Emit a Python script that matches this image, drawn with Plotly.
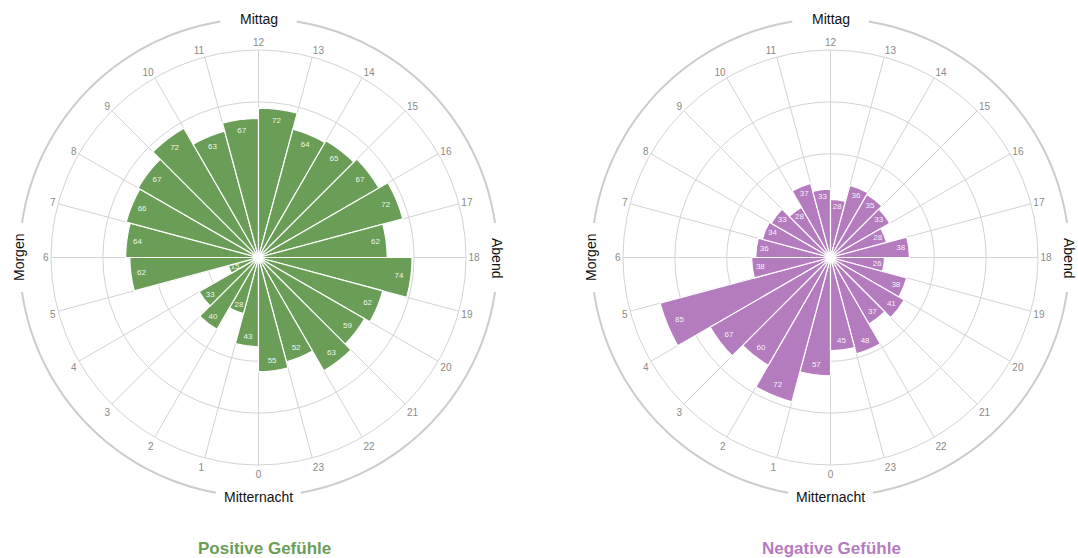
import numpy as np
import plotly.graph_objects as go

hours = list(range(24))
hour_labels = [str(h) for h in hours]
positive = [43, 28, 40, 33, 15, 62, 64, 66, 67, 72, 63, 67,
            72, 64, 65, 67, 72, 62, 74, 62, 59, 63, 52, 55]
negative = [57, 72, 60, 67, 85, 38, 36, 34, 33, 28, 37, 33,
            28, 36, 35, 33, 28, 38, 26, 38, 41, 37, 48, 45]
titles = ["Positive Gefühle", "Negative Gefühle"]
colors = ["#6a9e56", "#b47bbf"]
section_labels = ["Mittag", "Morgen", "Abend", "Mitternacht"]

W, H = 1078, 558
CY = 257.5
R = 207.5
centers = [258.5, 830.5]
title_x = [264, 831]

theta_centers = [h * 15 + 7.5 for h in hours]
tick_vals = [h * 15 for h in hours]

fig = go.Figure()
for i, (vals, col) in enumerate(zip([positive, negative], colors)):
    sub = "polar" if i == 0 else "polar2"
    fig.add_trace(go.Barpolar(
        r=vals, theta=theta_centers, width=[15] * 24,
        marker=dict(color=col, line=dict(color="white", width=1.2)),
        subplot=sub, hoverinfo="r+theta", showlegend=False))
    fig.add_trace(go.Scatterpolar(
        r=[v * 0.95 - 2 for v in vals], theta=theta_centers, mode="text",
        text=[str(v) for v in vals],
        textfont=dict(family="Liberation Sans, Arial", size=8, color="rgba(255,255,255,0.92)"),
        subplot=sub, hoverinfo="skip", showlegend=False))

polar_common = dict(
    bgcolor="white",
    radialaxis=dict(range=[0, 100], tickvals=[25, 50, 75], showticklabels=False,
                    ticks="", gridcolor="#d3d3d3", gridwidth=1, showline=False),
    angularaxis=dict(rotation=270, direction="clockwise", tickmode="array",
                     tickvals=tick_vals, ticktext=hour_labels, ticks="",
                     gridcolor="#d3d3d3", gridwidth=1, linecolor="#d3d3d3", linewidth=1,
                     tickfont=dict(family="Liberation Sans, Arial", size=10, color="#8a8a8a")),
    hole=0,
)

def dom(cx):
    return dict(x=[(cx - R) / W, (cx + R) / W], y=[(H - CY - R) / H, (H - CY + R) / H])

fig.update_layout(
    width=W, height=H, margin=dict(l=0, r=0, t=0, b=0),
    paper_bgcolor="white", plot_bgcolor="white",
    polar=dict(domain=dom(centers[0]), **polar_common),
    polar2=dict(domain=dom(centers[1]), **polar_common),
)

# outer decorative arcs with gaps for section labels
RA = 239
gaps = {90: 9.2, 180: 8.3, 0: 8.3, 270: 10.2}  # screen angle (deg, ccw from +x): half gap
shapes = []
annotations = []
for k, cx in enumerate(centers):
    cyp = H - CY
    segs = [(90 + gaps[90], 180 - gaps[180]), (180 + gaps[180], 270 - gaps[270]),
            (270 + gaps[270], 360 - gaps[0]), (0 + gaps[0], 90 - gaps[90])]
    for a0, a1 in segs:
        a = np.radians(np.linspace(a0, a1, 60))
        xs = (cx + RA * np.cos(a)) / W
        ys = (cyp + RA * np.sin(a)) / H
        path = "M " + " L ".join(f"{x:.5f},{y:.5f}" for x, y in zip(xs, ys))
        shapes.append(dict(type="path", path=path, xref="paper", yref="paper",
                           line=dict(color="#cccccc", width=2)))
    lab_pos = [(90, 0), (180, -90), (0, 90), (270, 0)]
    for lab, (ang, rot) in zip(section_labels, lab_pos):
        ar = np.radians(ang)
        annotations.append(dict(
            text=lab, x=(cx + RA * np.cos(ar)) / W, y=(cyp + RA * np.sin(ar)) / H,
            xref="paper", yref="paper", showarrow=False, textangle=rot,
            xanchor="center", yanchor="middle",
            font=dict(family="Liberation Sans, Arial", size=14, color="#111111")))
    annotations.append(dict(
        text=f"<b>{titles[k]}</b>", x=title_x[k] / W, y=(H - 548) / H,
        xref="paper", yref="paper", showarrow=False, xanchor="center", yanchor="middle",
        font=dict(family="Liberation Sans, Arial", size=17, color=colors[k])))

fig.update_layout(shapes=shapes, annotations=annotations)
fig.write_html("out.html", config={"displayModeBar": False},
               post_script="document.body.style.margin='0';document.body.style.overflow='hidden';")
